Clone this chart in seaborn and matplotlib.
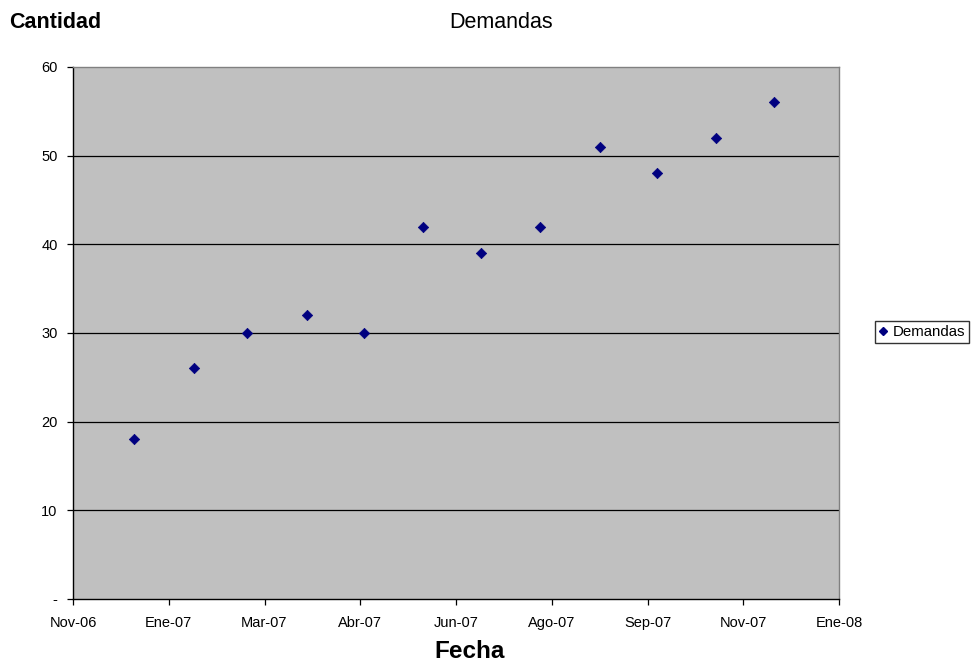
import matplotlib
matplotlib.use("Agg")
import matplotlib.pyplot as plt
import matplotlib.dates as mdates
import pandas as pd
import seaborn as sns

# Monthly demand figures (month-end dates)
fechas = ["2006-12-31", "2007-01-31", "2007-02-28", "2007-03-31", "2007-04-30",
          "2007-05-31", "2007-06-30", "2007-07-31", "2007-08-31", "2007-09-30",
          "2007-10-31", "2007-11-30"]
demandas = [18, 26, 30, 32, 30, 42, 39, 42, 51, 48, 52, 56]

# Date axis: 50-day steps starting at 2006-11-29
tick_fechas = ["2006-11-29", "2007-01-18", "2007-03-09", "2007-04-28", "2007-06-17",
               "2007-08-06", "2007-09-25", "2007-11-14", "2008-01-03"]
tick_labels = ["Nov-06", "Ene-07", "Mar-07", "Abr-07", "Jun-07",
               "Ago-07", "Sep-07", "Nov-07", "Ene-08"]
y_ticks = [0, 10, 20, 30, 40, 50, 60]
y_labels = ["-", "10", "20", "30", "40", "50", "60"]

df = pd.DataFrame({"Fecha": pd.to_datetime(fechas), "Demandas": demandas})

sns.set_style("white")
plt.rcParams["font.family"] = ["Liberation Sans", "DejaVu Sans"]
plt.rcParams["text.color"] = "black"
plt.rcParams["xtick.color"] = "black"
plt.rcParams["ytick.color"] = "black"

fig = plt.figure(figsize=(9.71, 6.65), dpi=100)
ax = fig.add_axes([73 / 971, 66 / 665, 766 / 971, 532 / 665])
ax.set_facecolor("#C0C0C0")

for y in y_ticks[1:-1]:
    ax.axhline(y, color="black", lw=0.9, zorder=1)

sns.scatterplot(data=df, x="Fecha", y="Demandas", ax=ax, marker="D",
                color="#000080", s=28, edgecolor="#000080", linewidth=0.5,
                zorder=3, legend=False)

tk = mdates.date2num(pd.to_datetime(tick_fechas))
ax.set_xlim(tk[0], tk[-1])
ax.set_xticks(tk)
ax.set_xticklabels(tick_labels, fontsize=10.5)
ax.set_ylim(0, 60)
ax.set_yticks(y_ticks)
ax.set_yticklabels(y_labels, fontsize=10.5)
ax.tick_params(axis="both", direction="out", length=4, width=0.9, color="black",
               labelcolor="black", bottom=True, left=True)
ax.tick_params(axis="x", pad=8)
ax.tick_params(axis="y", pad=7)

for side in ["left", "bottom"]:
    ax.spines[side].set_color("black")
    ax.spines[side].set_linewidth(1.0)
for side in ["top", "right"]:
    ax.spines[side].set_color("#808080")
    ax.spines[side].set_linewidth(1.0)

ax.set_xlabel("")
ax.set_ylabel("")

fig.text(501 / 971, 1 - 22 / 665, "Demandas", ha="center", va="center", fontsize=15.5)
fig.text(9 / 971, 1 - 22 / 665, "Cantidad", ha="left", va="center", fontsize=15.5,
         fontweight="bold")
fig.text(470 / 971, 1 - 652 / 665, "Fecha", ha="center", va="center", fontsize=17.5,
         fontweight="bold")

handle = plt.Line2D([], [], marker="D", color="#000080", linestyle="none",
                    markersize=4.5)
leg = fig.legend([handle], ["Demandas"], loc="center left",
                 bbox_to_anchor=(875 / 971, 1 - 332 / 665), fontsize=10.8,
                 frameon=True, fancybox=False, handlelength=0.6,
                 handletextpad=0.35, borderpad=0.25, borderaxespad=0)
leg.get_frame().set_edgecolor("black")
leg.get_frame().set_linewidth(1.0)

fig.savefig("out.png", dpi=100)
